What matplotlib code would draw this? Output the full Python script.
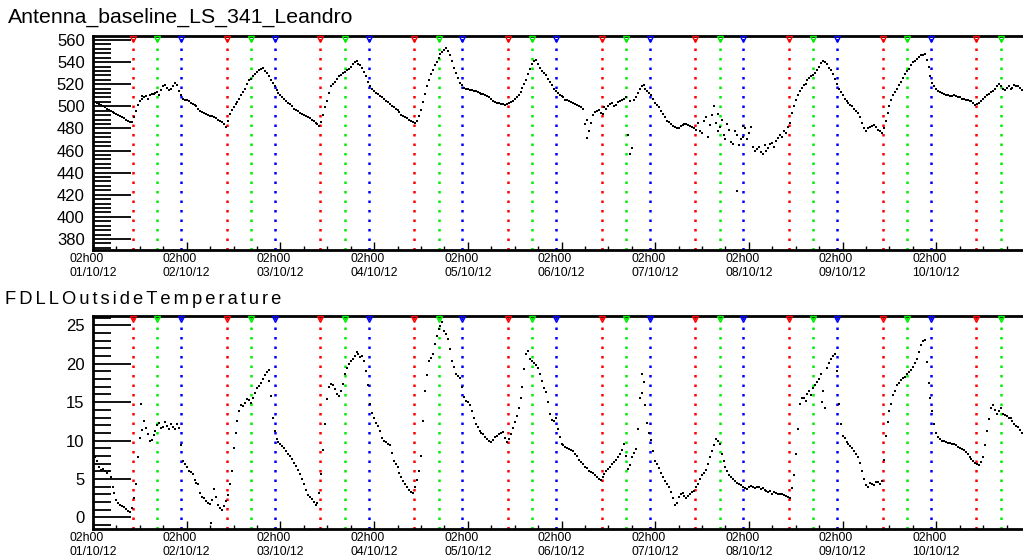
import numpy as np
import matplotlib
matplotlib.use("Agg")
import matplotlib.pyplot as plt
from matplotlib.ticker import MultipleLocator, FixedLocator

plt.rcParams['font.family'] = ['Liberation Sans', 'DejaVu Sans']

# readings on the hour, starting 01/10/12 02h00
antenna = [505, 503, 501, 499, 497, 495, 493, 491, 489, 487, 486, 496, 505, 508, 507, 511, 512, 510, 518, 517,
           516, 521, 514, 507, 506, 503, 501, 498, 495, 493, 491, 490, 488, 486, 481, 493, 499, 504, 510, 516,
           524, 527, 531, 534, 532, 527, 521, 515, 510, 507, 503, 500, 497, 494, 492, 490, 488, 485, 482, 492,
           505, 518, 522, 527, 530, 533, 536, 540, 538, 535, 527, 518, 514, 511, 508, 505, 502, 499, 497, 492,
           490, 488, 486, 487, 497, 511, 524, 533, 540, 547, 551, 550, 541, 530, 521, 517, 516, 515, 514, 512,
           511, 509, 507, 504, 503, 502, 502, 504, 507, 510, 517, 524, 534, 541, 538, 532, 528, 522, 516, 512,
           509, 506, 505, 503, 501, 499, 484, 478, 492, 496, 494, 499, 500, 503, 501, 505, 507, 474, 462, 508,
           516, 519, 514, 510, 503, 499, 493, 487, 484, 481, 480, 483, 484, 482, 480, 485, 476, 490, 483, 500,
           478, 488, 470, 479, 466, 474, 470, 480, 476, 463, 461, 459, 465, 462, 467, 469, 474, 478, 481, 494,
           506, 514, 519, 524, 527, 530, 536, 541, 538, 533, 525, 516, 510, 505, 501, 498, 494, 485, 478, 481,
           483, 479, 476, 487, 500, 510, 516, 522, 529, 534, 540, 543, 546, 547, 536, 521, 516, 513, 511, 510,
           509, 509, 508, 507, 506, 505, 501, 503, 507, 510, 513, 516, 520, 516, 517, 516, 519, 518, 515]
# readings on the half hour
antenna_half = [504, 502, 500, 498, 496, 494, 492, 490, 488, 486, 490, 501, 507, 509, 510, 511, 513, 515, 519, 515,
                518, 519, 510, 506, 505, 502, 500, 496, 494, 492, 491, 489, 487, 484, 487, 497, 502, 507, 513, 520,
                525, 529, 533, 535, 530, 524, 518, 512, 508, 505, 502, 498, 496, 493, 491, 489, 487, 484, 486, 499,
                512, 520, 525, 528, 531, 534, 538, 541, 537, 531, 522, 516, 512, 509, 507, 504, 500, 498, 495, 491,
                489, 487, 485, 491, 504, 518, 529, 537, 544, 549, 553, 546, 535, 526, 519, 516, 515, 514, 513, 511,
                510, 508, 505, 503, 502, 501, 503, 505, 508, 513, 520, 529, 538, 542, 535, 530, 525, 519, 514, 510,
                508, 506, 504, 502, 500, 498, 488, 485, 495, 497, 493, 498, 502, 500, 504, 506, 508, 505, 506, 512,
                518, 516, 512, 507, 501, 496, 490, 486, 482, 480, 482, 484, 483, 481, 479, 478, 487, 472, 492, 485,
                481, 474, 484, 468, 478, 465, 472, 470, 481, 460, 463, 457, 460, 466, 463, 471, 472, 476, 485, 500,
                510, 517, 520, 526, 528, 533, 539, 540, 535, 529, 520, 513, 507, 503, 500, 496, 490, 480, 480, 482,
                481, 478, 480, 494, 506, 513, 519, 526, 532, 537, 541, 545, 546, 542, 527, 518, 514, 512, 510, 509,
                510, 508, 507, 506, 505, 503, 502, 505, 508, 511, 514, 518, 518, 515, 518, 517, 518, 517]
antenna_extra_h = [12.5, 126.5, 137.5, 160.0, 165.0, 166.5]
antenna_extra_v = [509, 471, 457, 493, 423, 482]

temperature = [8.4, 7.3, 6.2, 6.0, 6.1, 4.0, 2.3, 1.6, 1.3, 0.9, 1.2, 4.4, 10.3, 12.6, 10.8, 10.1, 11.2, 12.3, 11.8, 11.9,
               12.2, 11.5, 11.6, 7.4, 6.6, 5.9, 4.9, 4.3, 2.7, 2.1, 1.8, 3.7, 1.6, 1.0, 2.1, 4.4, 9.0, 12.5, 14.6, 14.9,
               15.3, 15.5, 16.8, 17.5, 18.5, 17.8, 12.9, 10.2, 9.5, 9.0, 8.2, 7.6, 6.7, 5.6, 4.4, 2.9, 2.4, 1.6, 3.2, 8.8,
               15.4, 17.4, 16.7, 15.8, 17.3, 19.5, 20.3, 21.0, 21.3, 21.0, 19.0, 14.8, 12.9, 11.9, 10.3, 9.8, 9.4, 7.4, 6.6, 5.2,
               4.3, 3.6, 3.2, 4.9, 8.0, 16.5, 20.4, 21.2, 23.6, 24.9, 24.3, 23.2, 20.3, 18.7, 18.2, 15.7, 15.0, 13.9, 12.1, 11.2,
               10.9, 10.2, 9.8, 10.4, 10.8, 11.1, 9.8, 10.9, 12.4, 14.3, 17.0, 21.2, 20.6, 20.1, 19.4, 17.8, 16.3, 13.4, 12.5, 11.5,
               9.6, 9.2, 8.9, 8.6, 8.0, 7.2, 6.6, 6.1, 5.8, 5.3, 4.9, 5.6, 6.3, 6.9, 7.5, 8.2, 9.6, 6.3, 7.8, 8.9,
               15.5, 17.6, 12.3, 10.1, 7.4, 6.4, 5.2, 4.4, 3.3, 1.6, 2.7, 3.2, 2.5, 3.0, 3.5, 4.4, 5.5, 6.2, 7.8, 9.4,
               10.0, 8.3, 6.6, 5.5, 5.0, 4.5, 4.2, 3.8, 3.9, 4.0, 3.9, 3.7, 3.6, 3.3, 3.1, 3.2, 3.0, 2.9, 2.7, 3.8,
               8.2, 14.8, 15.6, 16.0, 15.9, 17.2, 18.0, 16.4, 19.5, 20.6, 21.3, 14.8, 10.6, 9.8, 9.3, 8.6, 7.9, 6.1, 4.2, 4.5,
               4.2, 4.6, 4.8, 10.6, 13.8, 15.9, 17.2, 17.9, 18.3, 18.9, 19.6, 20.6, 22.4, 23.1, 17.5, 13.8, 11.0, 10.2, 9.9, 9.7,
               9.6, 9.4, 9.0, 8.8, 8.3, 7.6, 7.1, 6.8, 7.9, 11.2, 14.3, 14.0, 13.9, 13.5, 13.2, 12.9, 12.2, 11.7, 11.0]
temperature_half = [7.9, 6.5, 6.3, 5.8, 5.2, 3.2, 1.9, 1.5, 1.1, 0.7, 2.5, 7.8, 11.4, 11.6, 10.0, 10.7, 12.0, 11.6, 12.4, 11.5,
                    11.8, 12.1, 9.4, 7.0, 6.1, 5.6, 4.5, 3.2, 2.5, 1.9, 2.3, 2.6, 1.2, 1.5, 2.9, 6.0, 11.0, 13.9, 14.5, 15.4,
                    14.9, 16.2, 17.1, 18.0, 18.9, 15.8, 11.3, 9.8, 9.3, 8.6, 8.0, 7.1, 6.2, 5.0, 3.6, 2.6, 2.0, 1.9, 5.6, 12.2,
                    17.0, 17.2, 16.0, 16.5, 18.6, 20.0, 20.6, 21.5, 20.9, 20.3, 17.2, 13.6, 12.3, 11.2, 10.0, 9.6, 8.4, 7.0, 5.8, 4.7,
                    3.9, 3.3, 3.9, 6.0, 12.5, 18.5, 20.8, 22.5, 24.5, 25.4, 23.8, 21.9, 19.6, 18.4, 17.0, 15.2, 14.6, 13.0, 11.7, 11.0,
                    10.5, 9.9, 10.1, 10.6, 11.0, 10.3, 10.2, 11.6, 13.2, 15.6, 19.3, 21.6, 20.3, 19.8, 18.7, 16.9, 15.0, 12.7, 13.0, 10.5,
                    9.4, 9.0, 8.8, 8.3, 7.5, 6.9, 6.4, 5.9, 5.5, 5.0, 5.2, 6.0, 6.6, 7.2, 7.9, 8.8, 8.0, 6.8, 8.4, 11.5,
                    16.2, 14.6, 11.0, 8.6, 7.0, 5.8, 4.8, 3.9, 2.5, 1.9, 3.0, 2.8, 2.8, 3.3, 3.9, 5.0, 5.8, 7.0, 8.6, 10.2,
                    9.6, 7.4, 6.0, 5.2, 4.8, 4.3, 4.0, 3.7, 4.1, 3.8, 4.0, 3.8, 3.5, 3.4, 3.3, 3.0, 3.1, 2.8, 2.5, 5.5,
                    11.5, 15.5, 15.2, 16.4, 16.8, 17.6, 18.6, 14.2, 20.1, 21.0, 19.0, 12.2, 10.3, 9.5, 9.0, 8.3, 7.1, 5.0, 4.0, 4.3,
                    4.6, 4.3, 7.5, 12.4, 14.7, 16.5, 17.5, 18.1, 18.6, 19.2, 20.1, 21.5, 22.9, 20.2, 15.6, 12.2, 10.5, 10.0, 9.8, 9.7,
                    9.5, 9.2, 8.9, 8.5, 7.9, 7.4, 6.9, 7.2, 9.4, 12.8, 14.6, 13.4, 14.2, 13.3, 13.0, 12.6, 11.9, 11.4]
temperature_extra_h = [12.4, 30.3, 140.5, 186.8, 45.0]
temperature_extra_v = [14.7, -0.7, 18.7, 15.0, 19.2]

day_labels = ["01/10/12", "02/10/12", "03/10/12", "04/10/12", "05/10/12",
              "06/10/12", "07/10/12", "08/10/12", "09/10/12", "10/10/12"]
red_h = [10.25 + 24 * d for d in range(10)]
green_h = [16.5 + 24 * d for d in range(10)]
blue_h = [22.6 + 24 * d for d in range(9)]

fig = plt.figure(figsize=(10.23, 5.58), dpi=100)
W, H = 1023, 558


def panel(top_px, bot_px, title, title_y, vals, half, ex_h, ex_v, ylim, major, minor):
    ax = fig.add_axes([93 / W, 1 - bot_px / H, (W - 93) / W, (bot_px - top_px) / H])
    for lst, col in ((red_h, '#ff0000'), (green_h, '#00ee00'), (blue_h, '#0000ff')):
        for h in lst:
            ax.axvline(h, color=col, lw=1.8, ls=(0, (1, 2.8)), zorder=1)
            ax.plot([h], [ylim[1] - (ylim[1] - ylim[0]) * 0.012], marker='v', ms=4,
                    mfc='none', mec=col, mew=1.0, clip_on=False, zorder=3)
    for xs, ys in ((np.arange(len(vals)), vals), (np.arange(len(half)) + 0.5, half), (ex_h, ex_v)):
        ax.plot(xs, ys, ls='none', marker='s', ms=1.9, mew=0, color='black', zorder=2)
    ax.set_xlim(0, 238.2)
    ax.set_ylim(*ylim)
    ax.spines['right'].set_visible(False)
    for s in ('left', 'top', 'bottom'):
        ax.spines[s].set_linewidth(2)
    ax.yaxis.set_major_locator(MultipleLocator(major))
    ax.yaxis.set_minor_locator(MultipleLocator(minor))
    ax.tick_params(axis='y', which='major', direction='in', length=27, width=1.3,
                   labelsize=12, pad=6)
    ax.tick_params(axis='y', which='minor', direction='in', length=13, width=1.3)
    ax.xaxis.set_major_locator(FixedLocator([24 * d for d in range(10)]))
    ax.xaxis.set_minor_locator(MultipleLocator(6))
    ax.set_xticklabels(["02h00\n" + d for d in day_labels], fontsize=8.8,
                       ha='center', multialignment='left', linespacing=1.2)
    ax.tick_params(axis='x', which='major', direction='in', length=6, width=1, pad=2)
    ax.tick_params(axis='x', which='minor', direction='in', length=3, width=1)
    fig.text(title[1] / W, 1 - title_y / H, title[0], fontsize=title[2], va='center', ha='left')
    return ax


panel(36, 250, ("Antenna_baseline_LS_341_Leandro", 8, 15.3), 17, antenna, antenna_half,
      antenna_extra_h, antenna_extra_v, (370, 563.6), 20, 4)
panel(316, 529, ("\u200a\u200a".join("FDLLOutsideTemperature"), 5, 13.2), 300, temperature,
      temperature_half, temperature_extra_h, temperature_extra_v, (-1.5, 26.2), 5, 1)

fig.savefig("out.png", dpi=100)
